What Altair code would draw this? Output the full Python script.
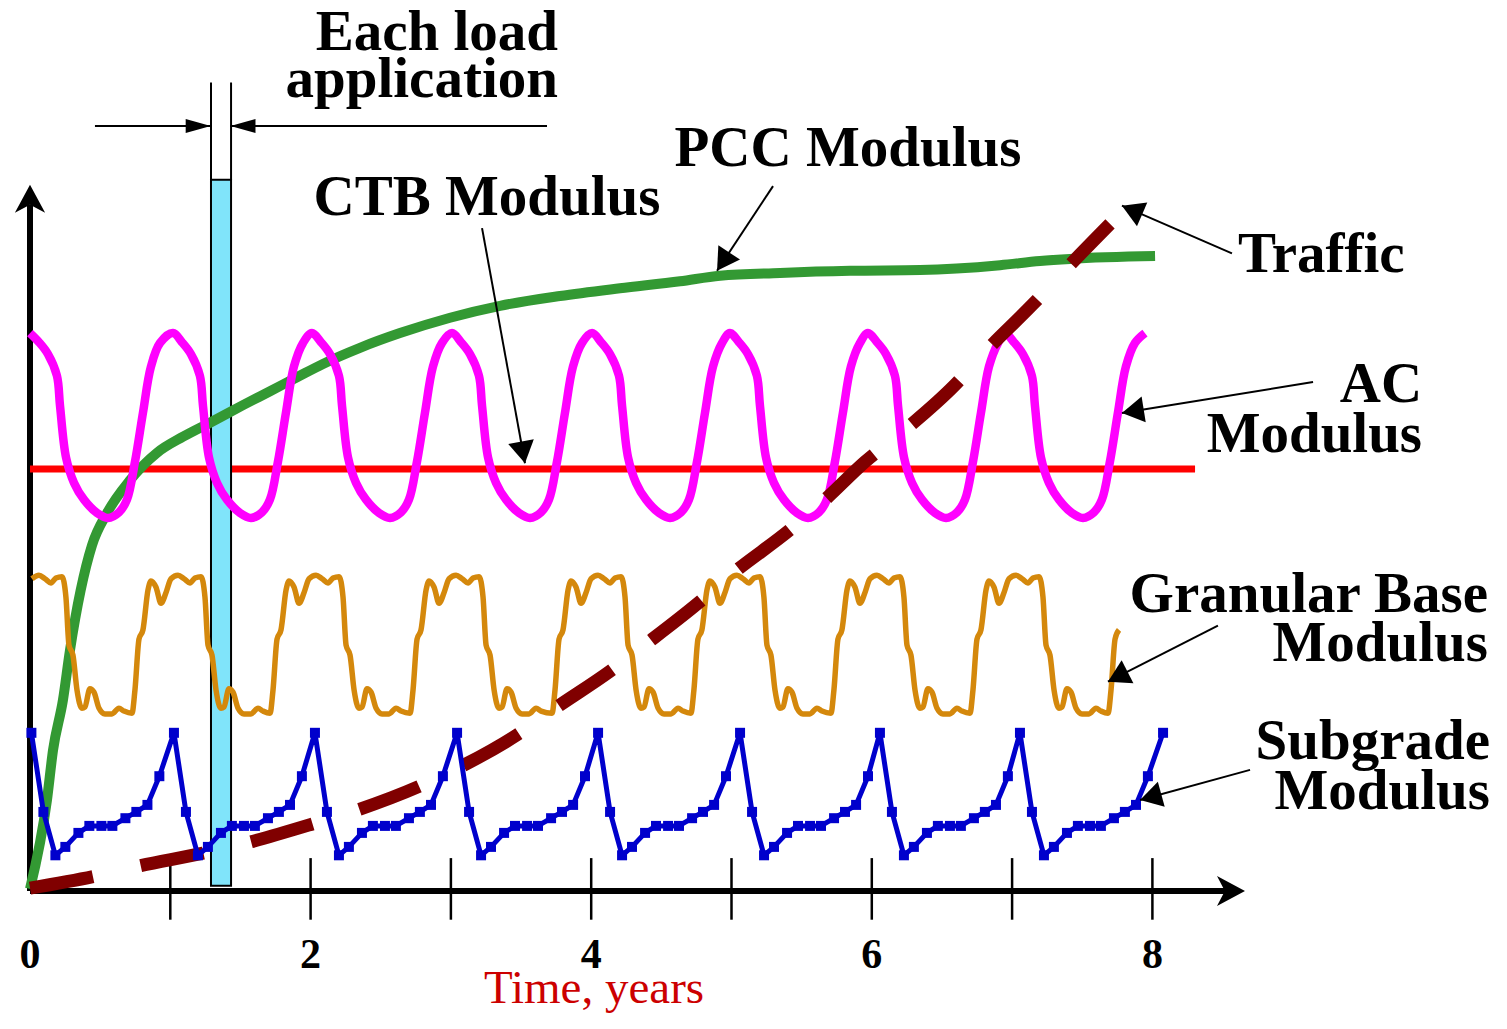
import math
import altair as alt
import pandas as pd

# ---------------- values ----------------
# x in years, y in relative modulus / traffic units (0 = time axis)
TICK_YEARS = [1, 2, 3, 4, 5, 6, 7, 8]
TICK_LABEL_YEARS = [0, 2, 4, 6, 8]
TICK_LABELS = ["0", "2", "4", "6", "8"]

# PCC modulus (green)
PCC_YEARS = [0.0, 0.121, 0.164, 0.235, 0.285, 0.442, 0.549, 0.713, 0.905, 1.091,
             1.283, 1.518, 1.711, 1.903, 2.088, 2.352, 2.637, 2.994, 3.350, 3.778,
             4.205, 4.633, 4.918, 5.346, 5.845, 6.344, 6.914, 7.199, 7.413, 8.019]
PCC_VALUES = [0.3, 13.0, 20.1, 27.3, 34.4, 49.4, 54.0, 58.7, 62.6, 64.9,
              66.9, 69.4, 71.4, 73.4, 75.3, 77.6, 79.7, 81.9, 83.6, 85.0,
              86.1, 87.1, 87.9, 88.3, 88.6, 88.7, 89.4, 90.0, 90.3, 90.7]

# CTB modulus (red, constant)
CTB_YEARS = [0.0, 8.304]
CTB_VALUES = [60.3, 60.3]

# AC modulus (magenta): one seasonal cycle read from a peak, and the peak times
AC_CYCLE_OFFSETS = [0.0, 0.064, 0.128, 0.192, 0.214, 0.257, 0.314, 0.385, 0.478,
                    0.556, 0.634, 0.691, 0.748, 0.805, 0.862, 0.927]
AC_CYCLE_VALUES = [79.7, 78.4, 76.7, 73.6, 69.3, 61.9, 58.3, 55.9, 54.0,
                   53.3, 54.1, 55.9, 61.3, 68.3, 74.9, 78.3]
AC_PEAK_YEARS = [0.0, 1.019, 2.010, 3.008, 4.006, 4.989, 5.973, 6.949]
AC_END_YEAR, AC_END_VALUE = 7.947, 79.7

# Granular base modulus (orange): one cycle read from a rising edge
GB_CYCLE_OFFSETS = [0.0, 0.021, 0.050, 0.078, 0.114, 0.135, 0.171, 0.207, 0.242,
                    0.278, 0.328, 0.371, 0.413, 0.449, 0.492, 0.520, 0.542, 0.570,
                    0.599, 0.634, 0.656, 0.691, 0.720, 0.756, 0.798, 0.848, 0.898, 0.934]
GB_CYCLE_VALUES = [25.4, 28.7, 36.0, 37.3, 43.0, 44.3, 43.4, 41.1, 42.6,
                   44.6, 45.1, 44.6, 44.0, 44.7, 44.9, 42.0, 35.1, 33.7,
                   28.7, 26.1, 26.3, 28.9, 28.4, 26.1, 25.3, 25.3, 26.1, 25.7]
GB_EDGE_YEARS = [-0.264, 0.727, 1.711, 2.709, 3.721, 4.711, 5.709, 6.700, 7.684]
GB_FIRST_YEAR, GB_LAST_YEAR = 0.0, 7.77

# Subgrade modulus (blue, with markers): one cycle read from a peak
SG_CYCLE_OFFSETS = [0.0, 0.0855, 0.171, 0.242, 0.335, 0.413, 0.499, 0.577, 0.670,
                    0.748, 0.827, 0.912]
SG_CYCLE_VALUES = [22.6, 11.3, 5.1, 6.3, 8.3, 9.3, 9.3, 9.3, 10.4, 11.3, 12.3, 16.4]
SG_PEAK_YEARS = [0.01, 1.026, 2.031, 3.044, 4.049, 5.061, 6.058, 7.056]
SG_END_YEAR, SG_END_VALUE = 8.076, 22.6

# Traffic (dark red, dashed)
TR_YEARS = [0.0, 0.463, 0.784, 1.233, 1.568, 2.017, 2.338, 2.780, 3.065, 3.471,
            3.742, 4.134, 4.398, 4.761, 5.011, 5.417, 5.666, 5.951, 6.237, 6.593,
            6.807, 7.142, 7.377, 7.698]
TR_VALUES = [0.4, 2.1, 3.6, 5.4, 7.0, 9.6, 11.6, 15.0, 17.7, 22.3,
             26.1, 31.4, 35.4, 41.1, 45.4, 51.6, 55.9, 61.3, 65.9, 72.3,
             77.0, 83.7, 88.7, 95.3]

# Load-application bar
BAR_X = [1.290, 1.433]
BAR_Y = [0.76, 101.6]
BAR_GUIDE_TOP = 115.5

# Axes
Y_AXIS_TOP, Y_ARROW_TIP = 98.0, 100.9
X_AXIS_END, X_ARROW_TIP = 8.53, 8.66
TICK_LOW, TICK_HIGH = -4.1, 4.7

# Dimension arrows for "Each load application"
DIM_TAIL_X = [0.463, 3.685]
DIM_TIP_X = [1.288, 1.429]
DIM_Y = 109.3

# Annotation arrows
ANN_NAMES = ["PCC", "CTB", "Traffic", "AC", "Granular", "Subgrade"]
ANN_TAIL_X = [5.296, 3.222, 8.567, 9.145, 8.467, 8.696]
ANN_TAIL_Y = [100.7, 94.7, 91.1, 72.7, 37.9, 17.3]
ANN_TIP_X = [4.897, 3.528, 7.783, 7.783, 7.683, 7.912]
ANN_TIP_Y = [88.6, 61.1, 97.9, 68.3, 29.9, 13.0]

# Labels
RIGHT_TEXTS = ["Each load", "application", "AC", "Modulus", "Granular Base",
               "Modulus", "Subgrade", "Modulus"]
RIGHT_TEXT_X = [3.763, 3.763, 9.922, 9.922, 10.392, 10.392, 10.406, 10.406]
RIGHT_TEXT_Y = [120.1, 113.4, 69.9, 62.7, 39.9, 32.9, 18.9, 11.7]
CENTER_TEXTS = ["PCC Modulus", "CTB Modulus"]
CENTER_TEXT_X = [5.830, 3.257]
CENTER_TEXT_Y = [103.6, 96.6]
LEFT_TEXTS = ["Traffic"]
LEFT_TEXT_X = [8.610]
LEFT_TEXT_Y = [88.4]
TICK_LABEL_Y = -11.0
AXIS_TITLE = "Time, years"
AXIS_TITLE_X, AXIS_TITLE_Y = 4.02, -16.0

# ---------------- layout ----------------
W, H = 1490, 1005
X_DOMAIN = [-0.1568, 10.4633]
Y_DOMAIN = [-17.4286, 126.1429]
PX_X = W / (X_DOMAIN[1] - X_DOMAIN[0])
PX_Y = H / (Y_DOMAIN[1] - Y_DOMAIN[0])

xs = alt.Scale(domain=X_DOMAIN, nice=False, zero=False)
ys = alt.Scale(domain=Y_DOMAIN, nice=False, zero=False)


def X(f="x"):
    return alt.X(f"{f}:Q", scale=xs, axis=None)


def Y(f="y"):
    return alt.Y(f"{f}:Q", scale=ys, axis=None)


def cycles(starts, offsets, values, lo, hi):
    out_x, out_y = [], []
    for s in starts:
        for o, v in zip(offsets, values):
            x = s + o
            if lo <= x <= hi:
                out_x.append(round(x, 4))
                out_y.append(v)
    return out_x, out_y


def screen_angle(x0, y0, x1, y1):
    dx = (x1 - x0) * PX_X
    dy = -(y1 - y0) * PX_Y
    return (math.degrees(math.atan2(dx, -dy)) + 360.0) % 360.0


ac_x, ac_y = cycles(AC_PEAK_YEARS, AC_CYCLE_OFFSETS, AC_CYCLE_VALUES, -1, 99)
ac_x.append(AC_END_YEAR)
ac_y.append(AC_END_VALUE)
gb_x, gb_y = cycles(GB_EDGE_YEARS, GB_CYCLE_OFFSETS, GB_CYCLE_VALUES, GB_FIRST_YEAR, GB_LAST_YEAR)
sg_x, sg_y = cycles(SG_PEAK_YEARS, SG_CYCLE_OFFSETS, SG_CYCLE_VALUES, -1, 99)
sg_x.append(SG_END_YEAR)
sg_y.append(SG_END_VALUE)

pcc_df = pd.DataFrame({"x": PCC_YEARS, "y": PCC_VALUES})
ctb_df = pd.DataFrame({"x": CTB_YEARS, "y": CTB_VALUES})
ac_df = pd.DataFrame({"x": ac_x, "y": ac_y})
gb_df = pd.DataFrame({"x": gb_x, "y": gb_y})
sg_df = pd.DataFrame({"x": sg_x, "y": sg_y})
tr_df = pd.DataFrame({"x": TR_YEARS, "y": TR_VALUES})

bar_df = pd.DataFrame({"x": [BAR_X[0]], "x2": [BAR_X[1]], "y": [BAR_Y[0]], "y2": [BAR_Y[1]]})
guide_df = pd.DataFrame({"x": BAR_X, "y": [BAR_Y[1]] * 2, "y2": [BAR_GUIDE_TOP] * 2})

axis_df = pd.DataFrame({
    "x": [0.0, 0.0], "x2": [0.0, X_AXIS_END],
    "y": [0.0, 0.0], "y2": [Y_AXIS_TOP, 0.0],
})
tick_df = pd.DataFrame({"x": TICK_YEARS, "y": [TICK_LOW] * len(TICK_YEARS),
                        "y2": [TICK_HIGH] * len(TICK_YEARS)})
axis_head_df = pd.DataFrame({
    "x": [0.0, X_ARROW_TIP], "y": [Y_ARROW_TIP, 0.0],
    "angle": [screen_angle(0, 0, 0, 1), screen_angle(0, 0, 1, 0)],
})

line_rows = []
head_rows = []
for tx, ty, px, py in zip(ANN_TAIL_X, ANN_TAIL_Y, ANN_TIP_X, ANN_TIP_Y):
    line_rows.append({"x": tx, "y": ty, "x2": px, "y2": py})
    head_rows.append({"x": px, "y": py, "angle": screen_angle(tx, ty, px, py)})
dim_rows = []
dim_head_rows = []
for tx, px in zip(DIM_TAIL_X, DIM_TIP_X):
    dim_rows.append({"x": tx, "y": DIM_Y, "x2": px, "y2": DIM_Y})
    dim_head_rows.append({"x": px, "y": DIM_Y, "angle": screen_angle(tx, DIM_Y, px, DIM_Y)})
ann_line_df = pd.DataFrame(line_rows + dim_rows)
ann_head_df = pd.DataFrame(head_rows)
dim_head_df = pd.DataFrame(dim_head_rows)

right_df = pd.DataFrame({"x": RIGHT_TEXT_X, "y": RIGHT_TEXT_Y, "t": RIGHT_TEXTS})
center_df = pd.DataFrame({"x": CENTER_TEXT_X, "y": CENTER_TEXT_Y, "t": CENTER_TEXTS})
left_df = pd.DataFrame({"x": LEFT_TEXT_X, "y": LEFT_TEXT_Y, "t": LEFT_TEXTS})
ticklab_df = pd.DataFrame({"x": TICK_LABEL_YEARS, "y": [TICK_LABEL_Y] * 5, "t": TICK_LABELS})
title_df = pd.DataFrame({"x": [AXIS_TITLE_X], "y": [AXIS_TITLE_Y], "t": [AXIS_TITLE]})

SERIF = "Liberation Serif"
HEAD_PATH = "M0,0L-0.59,1L0.59,1Z"
DIM_HEAD_PATH = "M0,0L-0.28,1L0.28,1Z"
AXIS_HEAD_PATH = "M0,0L-0.54,1L0,0.72L0.54,1Z"

layers = [
    alt.Chart(axis_df).mark_rule(color="black", strokeWidth=6).encode(
        x=X(), x2=alt.X2("x2"), y=Y(), y2=alt.Y2("y2")),
    alt.Chart(tick_df).mark_rule(color="black", strokeWidth=2.5).encode(
        x=X(), y=Y(), y2=alt.Y2("y2")),
    alt.Chart(axis_head_df).mark_point(shape=AXIS_HEAD_PATH, filled=True, color="black",
                                       opacity=1, size=3136, strokeWidth=0).encode(
        x=X(), y=Y(), angle=alt.Angle("angle:Q", scale=None)),
    alt.Chart(ctb_df).mark_line(color="#ff0000", strokeWidth=7).encode(x=X(), y=Y()),
    alt.Chart(bar_df).mark_rect(fill="#80e4fa", stroke="black", strokeWidth=2).encode(
        x=X(), x2=alt.X2("x2"), y=Y(), y2=alt.Y2("y2")),
    alt.Chart(guide_df).mark_rule(color="black", strokeWidth=2).encode(
        x=X(), y=Y(), y2=alt.Y2("y2")),
    alt.Chart(pcc_df).mark_line(color="#339933", strokeWidth=10, interpolate="monotone",
                                strokeCap="butt").encode(x=X(), y=Y()),
    alt.Chart(gb_df).mark_line(color="#d4880c", strokeWidth=5.5, interpolate="monotone",
                               strokeJoin="round").encode(x=X(), y=Y()),
    alt.Chart(ac_df).mark_line(color="#ff00ff", strokeWidth=8.5, interpolate="catmull-rom",
                               strokeJoin="round").encode(x=X(), y=Y()),
    alt.Chart(tr_df).mark_line(color="#800000", strokeWidth=13, interpolate="monotone",
                               strokeDash=[64, 49], strokeCap="butt").encode(x=X(), y=Y()),
    alt.Chart(sg_df).mark_line(color="#0000cc", strokeWidth=5, strokeJoin="round").encode(
        x=X(), y=Y()),
    alt.Chart(sg_df).mark_square(color="#0000cc", size=100, opacity=1).encode(x=X(), y=Y()),
    alt.Chart(ann_line_df).mark_rule(color="black", strokeWidth=2).encode(
        x=X(), x2=alt.X2("x2"), y=Y(), y2=alt.Y2("y2")),
    alt.Chart(ann_head_df).mark_point(shape=HEAD_PATH, filled=True, color="black",
                                      opacity=1, size=1936, strokeWidth=0).encode(
        x=X(), y=Y(), angle=alt.Angle("angle:Q", scale=None)),
    alt.Chart(dim_head_df).mark_point(shape=DIM_HEAD_PATH, filled=True, color="black",
                                      opacity=1, size=2500, strokeWidth=0).encode(
        x=X(), y=Y(), angle=alt.Angle("angle:Q", scale=None)),
    alt.Chart(right_df).mark_text(font=SERIF, fontWeight="bold", fontSize=57, align="right",
                                  baseline="alphabetic", color="black").encode(
        x=X(), y=Y(), text="t:N"),
    alt.Chart(center_df).mark_text(font=SERIF, fontWeight="bold", fontSize=57, align="center",
                                   baseline="alphabetic", color="black").encode(
        x=X(), y=Y(), text="t:N"),
    alt.Chart(left_df).mark_text(font=SERIF, fontWeight="bold", fontSize=57, align="left",
                                 baseline="alphabetic", color="black").encode(
        x=X(), y=Y(), text="t:N"),
    alt.Chart(ticklab_df).mark_text(font=SERIF, fontWeight="bold", fontSize=42, align="center",
                                    baseline="alphabetic", color="black").encode(
        x=X(), y=Y(), text="t:N"),
    alt.Chart(title_df).mark_text(font=SERIF, fontSize=47, align="center",
                                  baseline="alphabetic", color="#cc0000").encode(
        x=X(), y=Y(), text="t:N"),
]

chart = alt.layer(*layers).properties(
    width=W, height=H, padding=0, background="white",
    autosize=alt.AutoSizeParams(type="none"),
).configure_view(stroke=None)

chart.save("out.html", embed_options={"renderer": "svg", "actions": False})
